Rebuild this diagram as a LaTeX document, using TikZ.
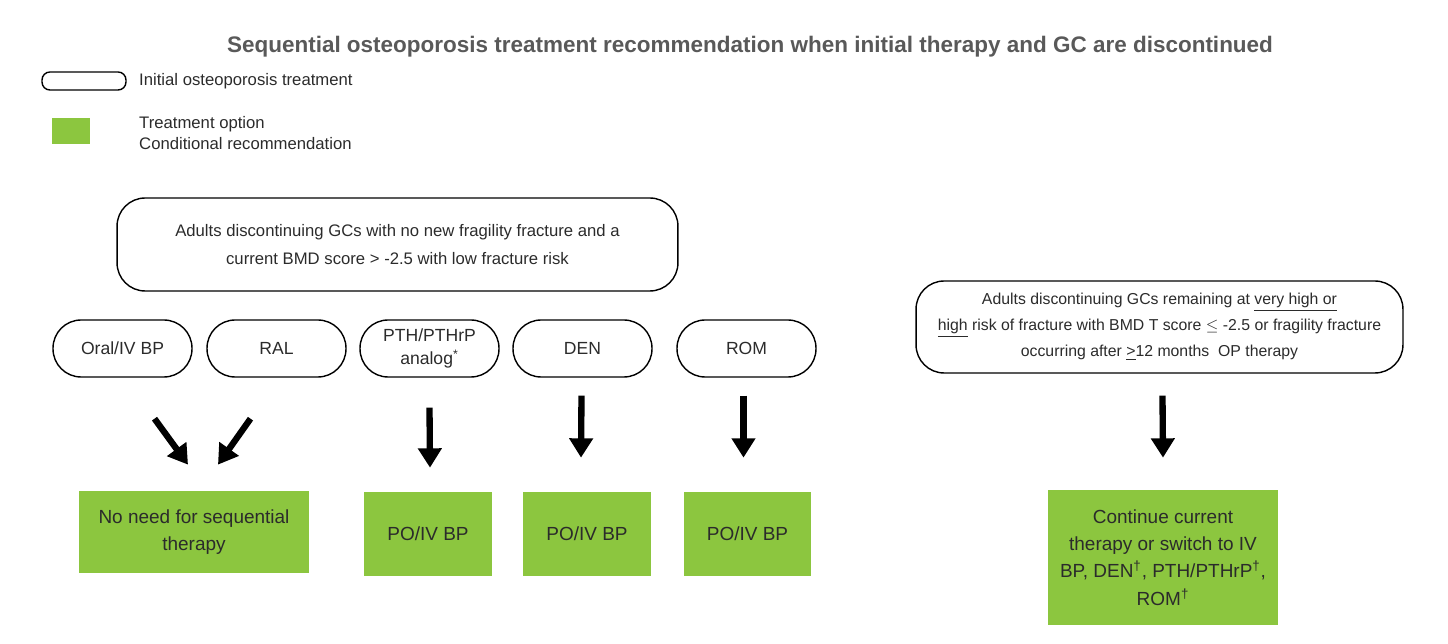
\documentclass[tikz,border=0pt]{standalone}
\usepackage{fontspec}
\setmainfont{Liberation Sans}
\usetikzlibrary{arrows.meta,calc}
\definecolor{optgreen}{HTML}{8CC63F}
\definecolor{txtgray}{HTML}{2B2B2B}
\definecolor{titlegray}{HTML}{595959}
\begin{document}
\begin{tikzpicture}[x=0.02cm, y=-0.02cm,
  every node/.style={text=txtgray, font=\fontsize{10}{15.5}\selectfont},
  initial/.style={draw, line width=0.8pt, rounded corners=16pt, align=center, inner sep=0pt},
  option/.style={fill=optgreen, align=center, inner sep=0pt, font=\fontsize{10.8}{15.5}\selectfont},
  bigarrow/.style={line width=3.6pt, -{Triangle[width=13pt, length=11pt]}}]
\useasboundingbox (0,0) rectangle (1448,644);

% title and legend
\node[font=\bfseries\fontsize{12.8}{15}\selectfont, text=titlegray] (title) at (750,47) {Sequential osteoporosis treatment recommendation when initial therapy and GC are discontinued};
\node[initial, rounded corners=4.5pt, minimum width=1.68cm, minimum height=0.36cm] (leginit) at (84,81) {};
\node[anchor=west, font=\fontsize{9.5}{12}\selectfont] (leginittxt) at (133,81) {Initial osteoporosis treatment};
\node[option, minimum width=0.76cm, minimum height=0.52cm] (legopt) at (71,131) {};
\node[anchor=west, align=left, font=\fontsize{9.5}{11.5}\selectfont] (legopttxt) at (133,133) {Treatment option\\Conditional recommendation};

% initial situations
\node[initial, minimum width=11.22cm, minimum height=1.86cm, font=\fontsize{9.5}{16}\selectfont] (lowrisk) at (397.5,244.5) {Adults discontinuing GCs with no new fragility fracture and a\\current BMD score > -2.5 with low fracture risk};
\node[initial, minimum width=9.74cm, minimum height=1.84cm, font=\fontsize{9}{14.8}\selectfont] (highrisk) at (1159.5,327) {Adults discontinuing GCs remaining at \underline{very high or}\\\underline{high} risk of fracture with BMD T score $\leq$ -2.5 or fragility fracture\\occurring after \underline{>}12 months~ OP therapy};

% initial treatments
\node[initial, minimum width=2.78cm, minimum height=1.14cm] (oral) at (122.5,348.5) {Oral/IV BP};
\node[initial, minimum width=2.78cm, minimum height=1.14cm] (ral) at (276.5,348.5) {RAL};
\node[initial, minimum width=2.78cm, minimum height=1.14cm, font=\fontsize{10}{13}\selectfont] (pth) at (429.5,348.5) {PTH/PTHrP\\analog\textsuperscript{*}};
\node[initial, minimum width=2.78cm, minimum height=1.14cm] (den) at (582.5,348.5) {DEN};
\node[initial, minimum width=2.78cm, minimum height=1.14cm] (rom) at (746.5,348.5) {ROM};

% treatment options
\node[option, minimum width=4.6cm, minimum height=1.64cm] (noneed) at (194,532) {No need for sequential\\therapy};
\node[option, minimum width=2.56cm, minimum height=1.68cm] (popth) at (428,534) {PO/IV BP};
\node[option, minimum width=2.56cm, minimum height=1.68cm] (poden) at (587,534) {PO/IV BP};
\node[option, minimum width=2.54cm, minimum height=1.68cm] (porom) at (747.5,534) {PO/IV BP};
\node[option, minimum width=4.6cm, minimum height=2.7cm] (cont) at (1163,557.5) {Continue current\\therapy or switch to IV\\BP, DEN\textsuperscript{\textdagger}, PTH/PTHrP\textsuperscript{\textdagger},\\ROM\textsuperscript{\textdagger}};

% arrows
\draw[bigarrow] ($(oral.south)+(32,41)$) -- ($(noneed.north)+(-6,-26)$);
\draw[bigarrow] ($(ral.south)+(-26,41)$) -- ($(noneed.north)+(24,-26)$);
\draw[bigarrow] ($(pth.south)+(0,30)$) -- ($(popth.north)+(2,-24)$);
\draw[bigarrow] ($(den.south)+(-1,18)$) -- ($(poden.north)+(-6,-34)$);
\draw[bigarrow] ($(rom.south)+(-3,18)$) -- ($(porom.north)+(-4,-34)$);
\draw[bigarrow] ($(highrisk.south)+(3,22)$) -- ($(cont.north)+(0,-32)$);
\end{tikzpicture}
\end{document}
